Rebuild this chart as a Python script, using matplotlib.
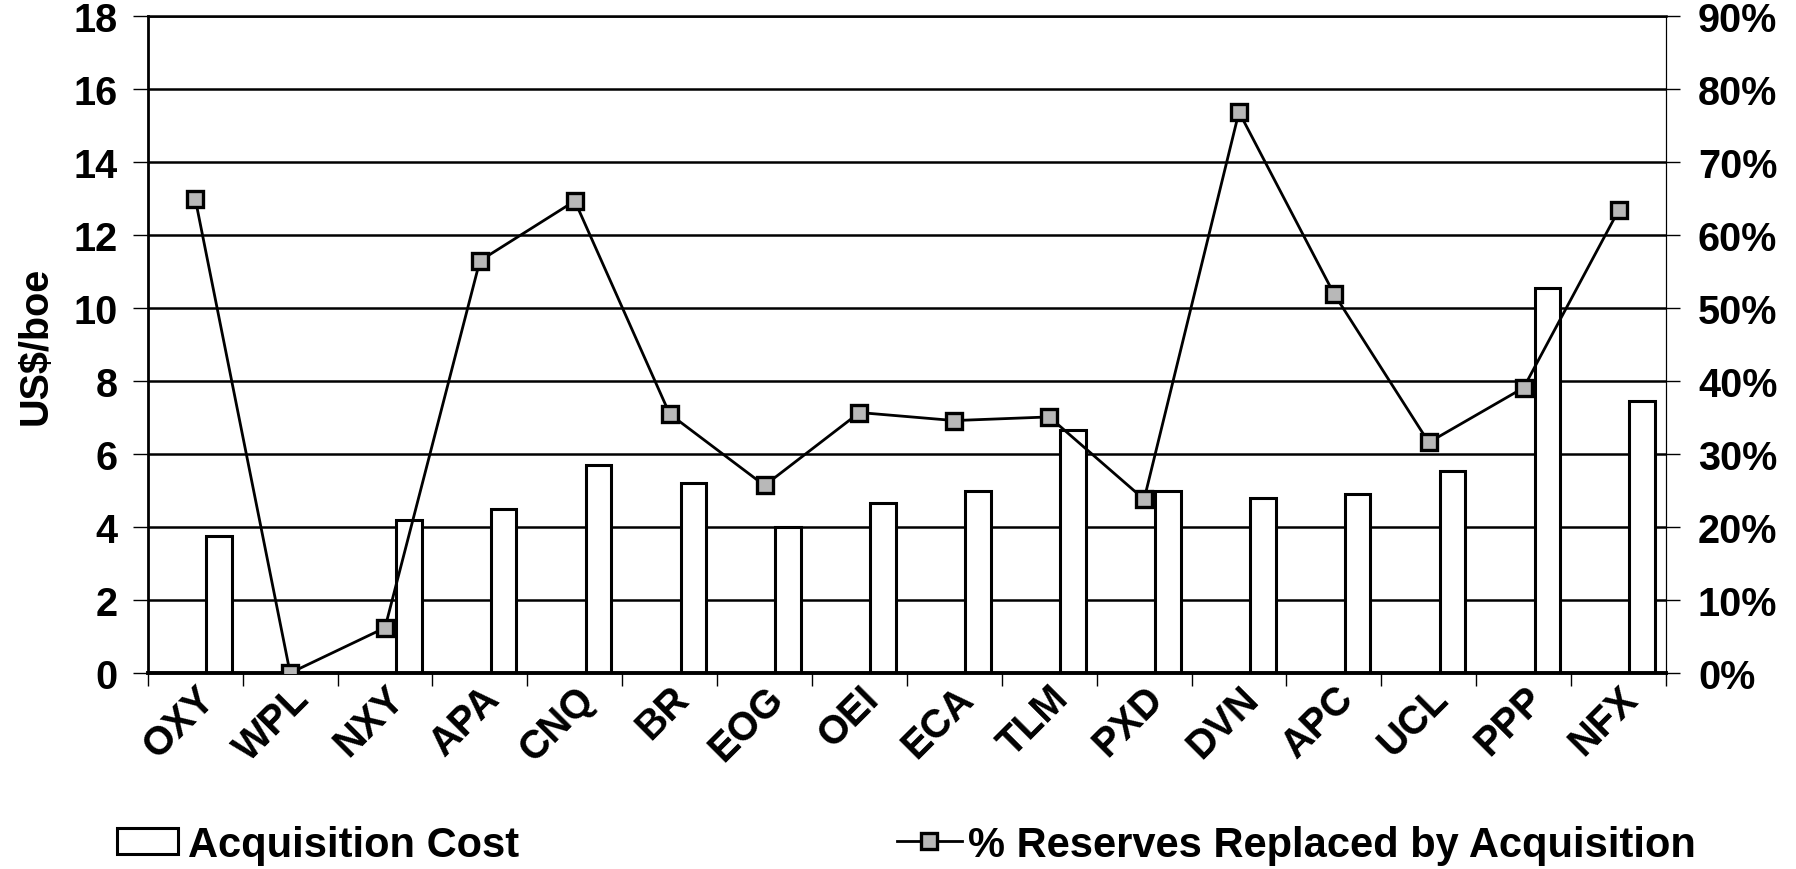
import matplotlib
matplotlib.use("Agg")
import matplotlib.pyplot as plt
from matplotlib.ticker import PercentFormatter
from matplotlib.lines import Line2D
from matplotlib.patches import Patch
import numpy as np

plt.rcParams["font.family"] = ["Liberation Sans", "DejaVu Sans"]
plt.rcParams["font.weight"] = "bold"

# Companies and values
companies = ["OXY", "WPL", "NXY", "APA", "CNQ", "BR", "EOG", "OEI",
             "ECA", "TLM", "PXD", "DVN", "APC", "UCL", "PPP", "NFX"]
acq_cost = [3.75, 0.0, 4.2, 4.5, 5.7, 5.2, 4.0, 4.65,
            5.0, 6.65, 5.0, 4.8, 4.9, 5.55, 10.55, 7.45]
pct_replaced = [65.0, 0.0, 6.2, 56.5, 64.7, 35.5, 25.7, 35.7,
                34.6, 35.1, 23.8, 76.9, 52.0, 31.6, 39.1, 63.4]

fs = 28.5
x = np.arange(len(companies))

fig = plt.figure(figsize=(17.96, 8.70), dpi=100)
ax = fig.add_axes([0.0823, 0.2253, 0.9276 - 0.0823, 0.980 - 0.2253])

# Cost bars, shifted right inside each category slot
ax.bar(x + 0.25, acq_cost, width=0.27, facecolor="white",
       edgecolor="black", linewidth=2.2, zorder=2)

ax.set_xlim(-0.5, len(companies) - 0.5)
ax.set_ylim(0, 18)
ax.set_yticks(np.arange(0, 19, 2))
ax.set_axisbelow(True)
ax.yaxis.grid(True, color="black", linewidth=1.8)
ax.set_ylabel("US$/boe", fontsize=fs, fontweight="bold", labelpad=13)

ax.set_xticks(x)
ax.set_xticklabels(companies, rotation=45, ha="right",
                   rotation_mode="anchor", fontsize=fs, fontweight="bold")
ax.tick_params(axis="x", which="major", length=0, pad=4)
ax.set_xticks(np.arange(-0.5, len(companies)), minor=True)
ax.tick_params(axis="x", which="minor", length=9, width=1, direction="out")
ax.tick_params(axis="y", length=11, width=1, direction="out",
               labelsize=fs, pad=11)

for side, lw in (("left", 2.0), ("bottom", 2.8), ("top", 1.8), ("right", 0.8)):
    ax.spines[side].set_linewidth(lw)

# Percent replaced on the secondary axis
ax2 = ax.twinx()
ax2.plot(x, pct_replaced, color="black", linewidth=2.0, marker="s",
         markersize=11, markerfacecolor="#b8b8b8", markeredgecolor="black",
         markeredgewidth=2.4, zorder=3)
ax2.set_ylim(0, 90)
ax2.set_yticks(np.arange(0, 91, 10))
ax2.yaxis.set_major_formatter(PercentFormatter(decimals=0))
ax2.tick_params(axis="y", length=10, width=1, direction="out",
                labelsize=fs, pad=13)
for side in ("left", "bottom", "top"):
    ax2.spines[side].set_visible(False)
ax2.spines["right"].set_linewidth(0.8)

for lab in ax.get_yticklabels() + ax2.get_yticklabels():
    lab.set_fontweight("bold")

# Legends below the plot
leg_fs = 30
bar_handle = Patch(facecolor="white", edgecolor="black", linewidth=2.2)
fig.legend([bar_handle], ["Acquisition Cost"], loc="center left",
           bbox_to_anchor=(0.065, 0.028), frameon=False, fontsize=leg_fs,
           handlelength=1.46, handleheight=0.57, handletextpad=0.24,
           borderpad=0, borderaxespad=0)
line_handle = Line2D([], [], color="black", linewidth=2.0, marker="s",
                     markersize=11, markerfacecolor="#b8b8b8",
                     markeredgecolor="black", markeredgewidth=2.4)
fig.legend([line_handle], ["% Reserves Replaced by Acquisition"],
           loc="center left", bbox_to_anchor=(0.4995, 0.028), frameon=False,
           fontsize=leg_fs, handlelength=1.55, handletextpad=0.14,
           borderpad=0, borderaxespad=0)

fig.savefig("out.png", dpi=100)
